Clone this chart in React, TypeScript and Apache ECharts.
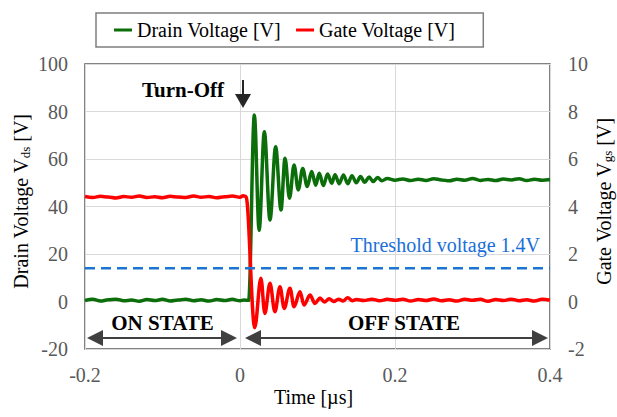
import React, { useEffect, useRef } from 'react';
import * as echarts from 'echarts';

const FONT = "'Liberation Serif','Times New Roman',serif";

const timeTicks = [-0.2, 0, 0.2, 0.4];
const drainTicks = [-20, 0, 20, 40, 60, 80, 100];
const gateTicks = [-2, 0, 2, 4, 6, 8, 10];

const seriesNames = ['Drain Voltage [V]', 'Gate Voltage [V]'];

// Drain voltage (left axis)
const drainTime = [
  -0.2, -0.19, -0.18, -0.17, -0.16, -0.15, -0.14, -0.13, -0.12, -0.11, -0.1, -0.09, -0.08, -0.07, -0.06, -0.05,
  -0.04, -0.03, -0.02, -0.01, 0, 0.005, 0.0112,
  0.0185, 0.0247, 0.0314, 0.0387, 0.046, 0.0529, 0.0581, 0.0639, 0.0697, 0.0752, 0.0809, 0.0867, 0.0925,
  0.0977, 0.1023, 0.1075, 0.113, 0.1183, 0.1226, 0.128, 0.1335, 0.139, 0.1445, 0.15, 0.1555, 0.161, 0.1665,
  0.172, 0.1775, 0.183, 0.19, 0.2, 0.21, 0.22, 0.23, 0.24, 0.25, 0.26, 0.27, 0.28, 0.29, 0.3, 0.31, 0.32,
  0.33, 0.34, 0.35, 0.36, 0.37, 0.38, 0.39, 0.4,
];
const drainVolt = [
  0.4, 0.9, 0.2, 0.7, 1.0, 0.3, 0.6, 0.1, 0.8, 0.4, 0.9, 0.2, 0.6, 1.0, 0.3, 0.7,
  0.2, 0.8, 0.4, 0.9, 0.3, 0.6, 0.5,
  78.5, 30, 71.5, 34.3, 65.2, 38.5, 60.3, 43.5, 57.5, 47, 56, 48.4, 54.7,
  49, 54, 48.8, 53.7, 49.8, 53.4, 49.6, 53.3, 49.6, 53, 50, 52.6, 50.2, 52.4,
  50.5, 52.2, 50.8, 51.8, 51.1, 51.6, 50.9, 51.5, 51.0, 51.7, 51.2, 50.8, 51.5, 51.1, 51.8, 51.0, 51.4,
  50.9, 51.6, 51.2, 51.7, 50.9, 51.5, 51.1, 51.4,
];

// Gate voltage (right axis)
const gateTime = [
  -0.2, -0.19, -0.18, -0.17, -0.16, -0.15, -0.14, -0.13, -0.12, -0.11, -0.1, -0.09, -0.08, -0.07, -0.06, -0.05,
  -0.04, -0.03, -0.02, -0.01, 0, 0.004, 0.0077,
  0.019, 0.027, 0.032, 0.0387, 0.045, 0.0516, 0.057, 0.0645, 0.0697, 0.0774, 0.0826, 0.0903, 0.0968, 0.1032,
  0.109, 0.115, 0.121, 0.127, 0.133, 0.139, 0.145, 0.15, 0.16, 0.17, 0.18, 0.19, 0.2, 0.21, 0.22, 0.23, 0.24,
  0.25, 0.26, 0.27, 0.28, 0.29, 0.3, 0.31, 0.32, 0.33, 0.34, 0.35, 0.36, 0.37, 0.38, 0.39, 0.4,
];
const gateVolt = [
  4.42, 4.38, 4.43, 4.4, 4.36, 4.42, 4.39, 4.44, 4.38, 4.41, 4.37, 4.43, 4.4, 4.38, 4.44, 4.39,
  4.42, 4.37, 4.41, 4.44, 4.39, 4.45, 4.42,
  -1.1, 0.98, -0.5, 0.77, -0.43, 0.62, -0.29, 0.56, -0.22, 0.41, -0.15, 0.27, -0.08, 0.15,
  -0.02, 0.12, 0.0, 0.1, 0.02, 0.16, 0.03, 0.08, 0.04, 0.1, 0.03, 0.09, 0.05, 0.1, 0.02, 0.08, 0.04,
  0.11, 0.03, 0.07, 0.02, 0.1, 0.05, 0.09, 0.01, 0.08, 0.04, 0.1, 0.03, 0.07, 0.02, 0.09, 0.05,
];

const thresholdTime = [-0.2, 0.4];
const thresholdVolt = [1.4, 1.4];

const GREEN = '#0b6e0b';
const RED = '#ff0000';
const BLUE = '#1c74d4';
const DARK = '#262626';

export default function App() {
  const ref = useRef<HTMLDivElement>(null);

  useEffect(() => {
    if (!ref.current) return;
    const chart = echarts.init(ref.current, null, { renderer: 'svg' });
    const axisLabel = { fontFamily: FONT, fontSize: 20, color: '#595959' };
    const option: any = {
      animation: false,
      legend: {
        data: seriesNames,
        left: 96,
        top: 13,
        borderColor: '#7f7f7f',
        borderWidth: 1.5,
        padding: [7, 28, 7, 18],
        itemWidth: 18,
        itemHeight: 3,
        itemGap: 15,
        icon: 'rect',
        textStyle: { fontFamily: FONT, fontSize: 20, color: '#000' },
      },
      grid: {
        left: 85,
        right: 67,
        top: 64,
        bottom: 68,
        show: true,
        borderColor: '#595959',
        borderWidth: 1.5,
      },
      xAxis: {
        type: 'value',
        min: timeTicks[0],
        max: timeTicks[timeTicks.length - 1],
        interval: timeTicks[1] - timeTicks[0],
        axisLine: { show: false },
        axisTick: { show: false },
        axisLabel: { ...axisLabel, margin: 16 },
        splitLine: { show: true, lineStyle: { color: '#d9d9d9', width: 1 } },
      },
      yAxis: [
        {
          type: 'value',
          min: drainTicks[0],
          max: drainTicks[drainTicks.length - 1],
          interval: drainTicks[1] - drainTicks[0],
          axisLine: { show: false },
          axisTick: { show: false },
          axisLabel: { ...axisLabel, margin: 17 },
          splitLine: { show: true, lineStyle: { color: '#d9d9d9', width: 1 } },
        },
        {
          type: 'value',
          position: 'right',
          min: gateTicks[0],
          max: gateTicks[gateTicks.length - 1],
          interval: gateTicks[1] - gateTicks[0],
          axisLine: { show: false },
          axisTick: { show: false },
          axisLabel: { ...axisLabel, margin: 18 },
          splitLine: { show: false },
        },
      ],
      series: [
        {
          name: seriesNames[0],
          type: 'line',
          yAxisIndex: 0,
          data: drainTime.map((t, i) => [t, drainVolt[i]]),
          showSymbol: false,
          smooth: 0.35,
          smoothMonotone: 'x',
          lineStyle: { color: GREEN, width: 3.5 },
          itemStyle: { color: GREEN },
          silent: true,
        },
        {
          name: seriesNames[1],
          type: 'line',
          yAxisIndex: 1,
          data: gateTime.map((t, i) => [t, gateVolt[i]]),
          showSymbol: false,
          smooth: 0.35,
          smoothMonotone: 'x',
          lineStyle: { color: RED, width: 3.5 },
          itemStyle: { color: RED },
          silent: true,
        },
        {
          name: 'Threshold',
          type: 'line',
          yAxisIndex: 1,
          data: thresholdTime.map((t, i) => [t, thresholdVolt[i]]),
          showSymbol: false,
          lineStyle: { color: BLUE, width: 2.5, type: [10, 6] },
          itemStyle: { color: BLUE },
          silent: true,
        },
      ],
    };
    chart.setOption(option);

    const px = (t: number, v: number) => chart.convertToPixel({ xAxisIndex: 0, yAxisIndex: 0 }, [t, v]) as number[];
    const [xL, yB] = px(timeTicks[0], drainTicks[0]);
    const [xR, yT] = px(timeTicks[timeTicks.length - 1], drainTicks[drainTicks.length - 1]);
    const [x0] = px(0, 0);
    const arrowY = yB - 11;
    const head = 16;
    const half = 8;
    const arrowFill = '#404040';
    const dblArrow = (a: number, b: number) => [
      { type: 'line', shape: { x1: a + head - 2, y1: arrowY, x2: b - head + 2, y2: arrowY }, style: { stroke: arrowFill, lineWidth: 2 } },
      { type: 'polygon', shape: { points: [[a, arrowY], [a + head, arrowY - half], [a + head, arrowY + half]] }, style: { fill: arrowFill } },
      { type: 'polygon', shape: { points: [[b, arrowY], [b - head, arrowY - half], [b - head, arrowY + half]] }, style: { fill: arrowFill } },
    ];
    const boldText = (text: string, x: number, y: number) => ({
      type: 'text',
      x,
      y,
      style: { text, fontFamily: FONT, fontSize: 21, fontWeight: 'bold', fill: '#000', align: 'center', verticalAlign: 'middle' },
    });
    const tox = x0 + 3;
    const graphic: any[] = [
      ...dblArrow(xL + 2, x0 - 3),
      ...dblArrow(x0 + 5, xR - 2),
      boldText('ON STATE', (xL + x0) / 2, arrowY - 15),
      boldText('OFF STATE', 404, arrowY - 15),
      boldText('Turn-Off', 183, yT + 26),
      { type: 'line', shape: { x1: tox, y1: yT + 16, x2: tox, y2: yT + 32 }, style: { stroke: DARK, lineWidth: 2 } },
      { type: 'polygon', shape: { points: [[tox - 8, yT + 30], [tox + 8, yT + 30], [tox, yT + 44]] }, style: { fill: DARK } },
      {
        type: 'text',
        x: xR - 10,
        y: 245,
        style: { text: 'Threshold voltage 1.4V', fontFamily: FONT, fontSize: 20, fill: '#1a6fd8', align: 'right', verticalAlign: 'middle' },
      },
      {
        type: 'text',
        x: (xL + xR) / 2 - 4,
        y: 397,
        style: { text: 'Time [µs]', fontFamily: FONT, fontSize: 20, fill: '#000', align: 'center', verticalAlign: 'middle' },
      },
      {
        type: 'text',
        x: 21,
        y: (yT + yB) / 2 - 5,
        rotation: Math.PI / 2,
        style: {
          text: '{n|Drain Voltage V}{s|ds}{n| [V]}',
          align: 'center',
          verticalAlign: 'middle',
          rich: {
            n: { fontFamily: FONT, fontSize: 20, color: '#000' },
            s: { fontFamily: FONT, fontSize: 13, color: '#000', padding: [9, 0, 0, 0] },
          },
        },
      },
      {
        type: 'text',
        x: 604,
        y: (yT + yB) / 2 - 5,
        rotation: Math.PI / 2,
        style: {
          text: '{n|Gate Voltage V}{s|gs}{n| [V]}',
          align: 'center',
          verticalAlign: 'middle',
          rich: {
            n: { fontFamily: FONT, fontSize: 20, color: '#000' },
            s: { fontFamily: FONT, fontSize: 13, color: '#000', padding: [6, 0, 0, 0] },
          },
        },
      },
    ];
    chart.setOption({ graphic });
    return () => chart.dispose();
  }, []);

  return <div ref={ref} style={{ position: 'fixed', left: 0, top: 0, width: 617, height: 417, background: '#fff' }} />;
}
